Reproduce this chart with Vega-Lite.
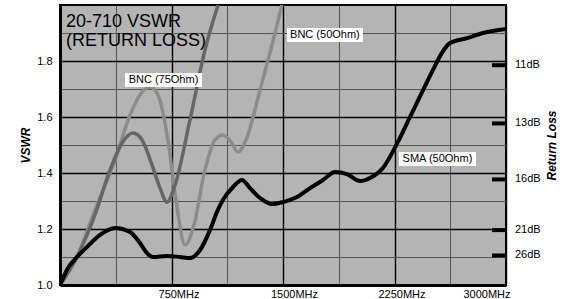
{
  "$schema": "https://vega.github.io/schema/vega-lite/v6.json",
  "width": 446,
  "height": 280,
  "autosize": {"type": "none"},
  "padding": {"left": 60, "top": 5, "right": 58, "bottom": 14},
  "background": "white",
  "config": {
    "view": {"fill": "#b4b4b4", "stroke": "black", "strokeWidth": 2},
    "font": "Liberation Sans"
  },
  "datasets": {
    "curves": [
      {"s": "X", "f": 0, "v": 1.0}, {"s": "X", "f": 114, "v": 1.10}, {"s": "X", "f": 235, "v": 1.268},
      {"s": "X", "f": 370, "v": 1.446}, {"s": "X", "f": 471, "v": 1.607}, {"s": "X", "f": 552, "v": 1.689},
      {"s": "X", "f": 605, "v": 1.707}, {"s": "X", "f": 659, "v": 1.679}, {"s": "X", "f": 726, "v": 1.518},
      {"s": "X", "f": 780, "v": 1.304}, {"s": "X", "f": 841, "v": 1.143}, {"s": "X", "f": 901, "v": 1.214},
      {"s": "X", "f": 975, "v": 1.411}, {"s": "X", "f": 1042, "v": 1.518}, {"s": "X", "f": 1096, "v": 1.536},
      {"s": "X", "f": 1150, "v": 1.511}, {"s": "X", "f": 1197, "v": 1.475}, {"s": "X", "f": 1251, "v": 1.518},
      {"s": "X", "f": 1345, "v": 1.696}, {"s": "X", "f": 1426, "v": 1.857}, {"s": "X", "f": 1493, "v": 2.0},
      {"s": "Y", "f": 0, "v": 1.0}, {"s": "Y", "f": 114, "v": 1.10}, {"s": "Y", "f": 235, "v": 1.25},
      {"s": "Y", "f": 336, "v": 1.41}, {"s": "Y", "f": 417, "v": 1.507}, {"s": "Y", "f": 491, "v": 1.543},
      {"s": "Y", "f": 552, "v": 1.518}, {"s": "Y", "f": 619, "v": 1.429}, {"s": "Y", "f": 673, "v": 1.346},
      {"s": "Y", "f": 720, "v": 1.296}, {"s": "Y", "f": 774, "v": 1.357}, {"s": "Y", "f": 874, "v": 1.589},
      {"s": "Y", "f": 975, "v": 1.839}, {"s": "Y", "f": 1063, "v": 2.0},
      {"s": "SMA", "f": 0, "v": 1.0}, {"s": "SMA", "f": 54, "v": 1.061}, {"s": "SMA", "f": 114, "v": 1.10},
      {"s": "SMA", "f": 182, "v": 1.136}, {"s": "SMA", "f": 269, "v": 1.179}, {"s": "SMA", "f": 370, "v": 1.204},
      {"s": "SMA", "f": 471, "v": 1.189}, {"s": "SMA", "f": 538, "v": 1.15}, {"s": "SMA", "f": 585, "v": 1.114},
      {"s": "SMA", "f": 626, "v": 1.10}, {"s": "SMA", "f": 720, "v": 1.104}, {"s": "SMA", "f": 807, "v": 1.10},
      {"s": "SMA", "f": 874, "v": 1.096}, {"s": "SMA", "f": 942, "v": 1.125}, {"s": "SMA", "f": 1009, "v": 1.196},
      {"s": "SMA", "f": 1056, "v": 1.261}, {"s": "SMA", "f": 1096, "v": 1.304}, {"s": "SMA", "f": 1164, "v": 1.35},
      {"s": "SMA", "f": 1224, "v": 1.375}, {"s": "SMA", "f": 1278, "v": 1.346}, {"s": "SMA", "f": 1345, "v": 1.311},
      {"s": "SMA", "f": 1426, "v": 1.289}, {"s": "SMA", "f": 1500, "v": 1.296}, {"s": "SMA", "f": 1594, "v": 1.314},
      {"s": "SMA", "f": 1682, "v": 1.346}, {"s": "SMA", "f": 1769, "v": 1.375}, {"s": "SMA", "f": 1850, "v": 1.404},
      {"s": "SMA", "f": 1930, "v": 1.396}, {"s": "SMA", "f": 2018, "v": 1.371}, {"s": "SMA", "f": 2085, "v": 1.382},
      {"s": "SMA", "f": 2172, "v": 1.418}, {"s": "SMA", "f": 2273, "v": 1.511}, {"s": "SMA", "f": 2354, "v": 1.60},
      {"s": "SMA", "f": 2442, "v": 1.696}, {"s": "SMA", "f": 2509, "v": 1.768}, {"s": "SMA", "f": 2569, "v": 1.829},
      {"s": "SMA", "f": 2623, "v": 1.864}, {"s": "SMA", "f": 2738, "v": 1.882}, {"s": "SMA", "f": 2845, "v": 1.90},
      {"s": "SMA", "f": 3000, "v": 1.914}
    ],
    "labels": [
      {"t": "BNC (75Ohm)", "f": 696, "v": 1.732, "f1": 437, "f2": 955, "v1": 1.757, "v2": 1.707},
      {"t": "BNC (50Ohm)", "f": 1782, "v": 1.893, "f1": 1527, "f2": 2038, "v1": 1.918, "v2": 1.868},
      {"t": "SMA (50Ohm)", "f": 2539, "v": 1.45, "f1": 2280, "f2": 2798, "v1": 1.475, "v2": 1.425}
    ],
    "rl": [
      {"rl": "11dB", "v": 1.785},
      {"rl": "13dB", "v": 1.577},
      {"rl": "16dB", "v": 1.377},
      {"rl": "21dB", "v": 1.196},
      {"rl": "26dB", "v": 1.1055}
    ]
  },
  "resolve": {"axis": {"y": "independent"}},
  "layer": [
    {
      "data": {"name": "curves"},
      "transform": [{"filter": "datum.s != 'SMA'"}],
      "mark": {"type": "line", "interpolate": "monotone", "strokeWidth": 3.5, "clip": true},
      "encoding": {
        "x": {
          "field": "f", "type": "quantitative",
          "scale": {"domain": [0, 3000], "nice": false},
          "axis": {
            "title": null,
            "values": [375, 750, 1125, 1500, 1875, 2250, 2625, 3000],
            "labelExpr": "datum.value % 750 == 0 ? datum.value + 'MHz' : ''",
            "labelFlush": true,
            "labelOffset": {"condition": [{"test": "datum.value == 3000", "value": 4}, {"test": "datum.value == 1500", "value": 11}], "value": 7},
            "labelFontSize": 11, "labelColor": "black", "labelPadding": 3,
            "ticks": false,
            "domainColor": "black", "domainWidth": 3,
            "grid": true,
            "gridColor": {"condition": {"test": "datum.value % 750 == 0", "value": "black"}, "value": "#555555"},
            "gridWidth": {"condition": {"test": "datum.value % 750 == 0", "value": 1.4}, "value": 1},
            "gridOpacity": 1
          }
        },
        "y": {
          "field": "v", "type": "quantitative",
          "scale": {"domain": [1, 2], "nice": false, "zero": false},
          "axis": {
            "title": "VSWR", "titleFontStyle": "italic", "titleFontWeight": "bold", "titleFontSize": 12,
            "titleColor": "black", "titlePadding": 4,
            "values": [1.0, 1.1, 1.2, 1.3, 1.4, 1.5, 1.6, 1.7, 1.8, 1.9],
            "labelExpr": "round(datum.value * 10) % 2 == 0 ? format(datum.value, '.1f') : ''",
            "labelFontSize": 11, "labelColor": "black", "labelPadding": 8,
            "ticks": false,
            "domainColor": "black", "domainWidth": 3,
            "grid": true,
            "gridColor": {"condition": {"test": "round(datum.value * 10) % 2 == 0", "value": "black"}, "value": "#555555"},
            "gridWidth": {"condition": {"test": "round(datum.value * 10) % 2 == 0", "value": 1.4}, "value": 1},
            "gridOpacity": 1
          }
        },
        "detail": {"field": "s"},
        "color": {
          "field": "s", "type": "nominal",
          "scale": {"domain": ["X", "Y"], "range": ["#8c8c8c", "#666666"]},
          "legend": null
        }
      }
    },
    {
      "data": {"name": "curves"},
      "transform": [{"filter": "datum.s == 'SMA'"}],
      "mark": {"type": "line", "interpolate": "monotone", "strokeWidth": 4, "color": "black", "clip": true},
      "encoding": {
        "x": {"field": "f", "type": "quantitative"},
        "y": {"field": "v", "type": "quantitative", "axis": null}
      }
    },
    {
      "data": {"name": "labels"},
      "mark": {"type": "rect", "color": "white"},
      "encoding": {
        "x": {"field": "f1", "type": "quantitative"},
        "x2": {"field": "f2"},
        "y": {"field": "v1", "type": "quantitative", "axis": null},
        "y2": {"field": "v2"}
      }
    },
    {
      "data": {"name": "labels"},
      "mark": {"type": "text", "fontSize": 11, "color": "black", "align": "center", "baseline": "middle"},
      "encoding": {
        "x": {"field": "f", "type": "quantitative"},
        "y": {"field": "v", "type": "quantitative", "axis": null},
        "text": {"field": "t"}
      }
    },
    {
      "data": {"name": "rl"},
      "mark": {"type": "rule", "strokeWidth": 4, "color": "black"},
      "encoding": {
        "x": {"datum": 2906},
        "x2": {"datum": 3000},
        "y": {
          "field": "v", "type": "quantitative",
          "axis": {
            "orient": "right", "title": "Return Loss", "titleFontStyle": "italic", "titleFontWeight": "bold",
            "titleFontSize": 12, "titleColor": "black", "titleAngle": 270, "titlePadding": 52,
            "labels": false, "ticks": false, "domain": false, "grid": false
          }
        }
      }
    },
    {
      "data": {"name": "rl"},
      "mark": {"type": "text", "fontSize": 11, "color": "black", "align": "left", "baseline": "middle", "dx": 9},
      "encoding": {
        "x": {"datum": 3000},
        "y": {"field": "v", "type": "quantitative", "axis": null},
        "text": {"field": "rl"}
      }
    },
    {
      "data": {"values": [{}]},
      "mark": {"type": "text", "fontSize": 18, "color": "black", "align": "left", "baseline": "top", "lineHeight": 19},
      "encoding": {
        "x": {"datum": 40},
        "y": {"datum": 1.972, "axis": null},
        "text": {"value": ["20-710 VSWR", "(RETURN LOSS)"]}
      }
    }
  ]
}
